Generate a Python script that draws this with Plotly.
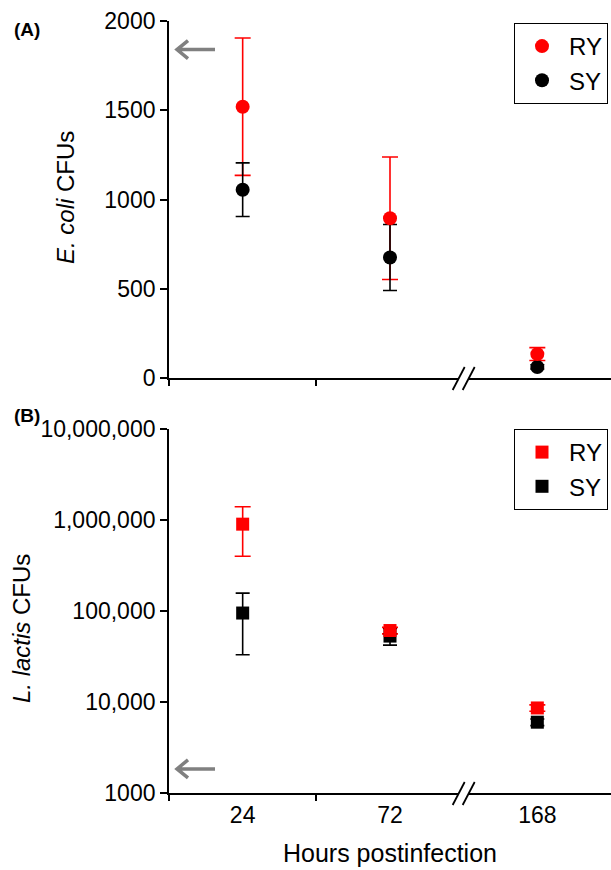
import numpy as np
import plotly.graph_objects as go

# ---------------- data ----------------
HOURS = ["24", "72", "168"]

# Panel A: E. coli CFUs (linear)
RY_A = [1520, 895, 134]
RY_A_ERR = [385, 343, 36]
SY_A = [1055, 675, 62]
SY_A_ERR = [150, 185, 12]

# Panel B: L. lactis CFUs (log)
RY_B = [900000, 61000, 8600]
RY_B_ERR = [500000, 5000, 700]
SY_B = [95000, 53000, 6000]
SY_B_ERR = [62000, 10800, 500]

# inoculum arrows
ARROW_A = 1840
ARROW_B = 1840

Y_A_TICKS = [0, 500, 1000, 1500, 2000]
Y_A_TICKTEXT = ["0", "500", "1000", "1500", "2000"]
Y_B_TICKS = [1000, 10000, 100000, 1000000, 10000000]
Y_B_TICKTEXT = ["1000", "10,000", "100,000", "1,000,000", "10,000,000"]

RED = "#ff0000"
BLACK = "#000000"
GRAY = "#808080"
FONT = "Liberation Sans, Arial, Helvetica, sans-serif"

W, H = 611, 870

fig = go.Figure()


def add_panel(xa, ya, legend, ry, ry_err, sy, sy_err, symbol, size):
    # RY error bars (drawn underneath)
    fig.add_trace(go.Scatter(
        x=HOURS, y=ry, mode="markers", xaxis=xa, yaxis=ya,
        marker=dict(color="rgba(0,0,0,0)", size=size, symbol=symbol),
        error_y=dict(type="data", array=ry_err, color=RED, thickness=1.6, width=8),
        showlegend=False, hoverinfo="skip", legend=legend))
    # SY
    fig.add_trace(go.Scatter(
        x=HOURS, y=sy, mode="markers", name="SY", xaxis=xa, yaxis=ya,
        marker=dict(color=BLACK, size=size, symbol=symbol),
        error_y=dict(type="data", array=sy_err, color=BLACK, thickness=1.6, width=7),
        legend=legend, legendrank=2))
    # RY markers on top
    fig.add_trace(go.Scatter(
        x=HOURS, y=ry, mode="markers", name="RY", xaxis=xa, yaxis=ya,
        marker=dict(color=RED, size=size, symbol=symbol),
        legend=legend, legendrank=1))


add_panel("x", "y", "legend", RY_A, RY_A_ERR, SY_A, SY_A_ERR, "circle", 14)
add_panel("x2", "y2", "legend2", RY_B, RY_B_ERR, SY_B, SY_B_ERR, "square", 13)

x_dom = [169 / W, 1.0]
yA_dom = [1 - 378 / H, 1 - 21 / H]
yB_dom = [1 - 793 / H, 1 - 429 / H]

axis_common = dict(showline=True, linecolor="black", linewidth=1.8,
                   ticks="outside", tickcolor="black", tickwidth=1.8,
                   showgrid=False, zeroline=False, automargin=False,
                   tickfont=dict(family=FONT, size=23, color="black"))

xcommon = dict(axis_common, type="category", categoryorder="array",
               categoryarray=HOURS, range=[-0.5, 2.5], tickson="boundaries",
               ticklen=6, domain=x_dom)

legend_common = dict(x=608 / W, xanchor="right", yanchor="top",
                     bordercolor="black", borderwidth=1, bgcolor="white",
                     itemwidth=44,
                     font=dict(family=FONT, size=24, color="black"))

fig.update_layout(
    width=W, height=H,
    margin=dict(l=0, r=0, t=0, b=0),
    paper_bgcolor="white", plot_bgcolor="white",
    font=dict(family=FONT, color="black"),
    xaxis=dict(xcommon, anchor="y", showticklabels=False),
    yaxis=dict(axis_common, domain=yA_dom, anchor="x", range=[0, 2000],
               tickvals=Y_A_TICKS, ticktext=Y_A_TICKTEXT, ticklen=7),
    xaxis2=dict(xcommon, anchor="y2",
                title=dict(text="Hours postinfection", standoff=18,
                           font=dict(family=FONT, size=25, color="black"))),
    yaxis2=dict(axis_common, domain=yB_dom, anchor="x2", type="log",
                range=[3, 7], tickvals=Y_B_TICKS, ticktext=Y_B_TICKTEXT, ticklen=7),
    legend=dict(legend_common, y=1 - 23 / H),
    legend2=dict(legend_common, y=1 - 429 / H),
)

shapes = []
# axis breaks
for xr, yr in (("x", "y domain"), ("x2", "y2 domain")):
    shapes.append(dict(type="rect", xref=xr, yref=yr, layer="above",
                       xsizemode="pixel", xanchor=1.5, x0=-5, x1=5,
                       ysizemode="pixel", yanchor=0, y0=-9, y1=3,
                       fillcolor="white", line=dict(width=0)))
    for off in (-5, 5):
        shapes.append(dict(type="line", xref=xr, yref=yr, layer="above",
                           xsizemode="pixel", xanchor=1.5, x0=off - 6, x1=off + 6,
                           ysizemode="pixel", yanchor=0, y0=-12, y1=11,
                           line=dict(color="black", width=1.8)))

# inoculum arrows
arrow_path = "M 46 0 L 8 0 M 19 9 L 8 0 L 19 -9"
shapes.append(dict(type="path", xref="x domain", yref="y", layer="above",
                   xsizemode="pixel", xanchor=0, ysizemode="pixel", yanchor=ARROW_A,
                   path=arrow_path, line=dict(color=GRAY, width=3.5)))
shapes.append(dict(type="path", xref="x2 domain", yref="y2", layer="above",
                   xsizemode="pixel", xanchor=0, ysizemode="pixel",
                   yanchor=ARROW_B,
                   path=arrow_path, line=dict(color=GRAY, width=3.5)))
fig.update_layout(shapes=shapes)

# axis titles
fig.add_annotation(text="<i>E. coli</i> CFUs", xref="paper", yref="paper",
                   x=65 / W, y=1 - 198 / H, textangle=-90, showarrow=False,
                   xanchor="center", yanchor="middle",
                   font=dict(family=FONT, size=24, color="black"))
fig.add_annotation(text="<i>L. lactis</i> CFUs", xref="paper", yref="paper",
                   x=21 / W, y=1 - 629 / H, textangle=-90, showarrow=False,
                   xanchor="center", yanchor="middle",
                   font=dict(family=FONT, size=24, color="black"))

fig.add_annotation(text="<b>(A)</b>", xref="paper", yref="paper",
                   x=12 / W, y=1 - 30 / H, xanchor="left", yanchor="middle",
                   showarrow=False, font=dict(family=FONT, size=19, color="black"))
fig.add_annotation(text="<b>(B)</b>", xref="paper", yref="paper",
                   x=12 / W, y=1 - 415 / H, xanchor="left", yanchor="middle",
                   showarrow=False, font=dict(family=FONT, size=19, color="black"))

fig.write_html("out.html",
               config={"displayModeBar": False},
               post_script="document.body.style.margin='0';"
                           "document.body.style.overflow='hidden';")
